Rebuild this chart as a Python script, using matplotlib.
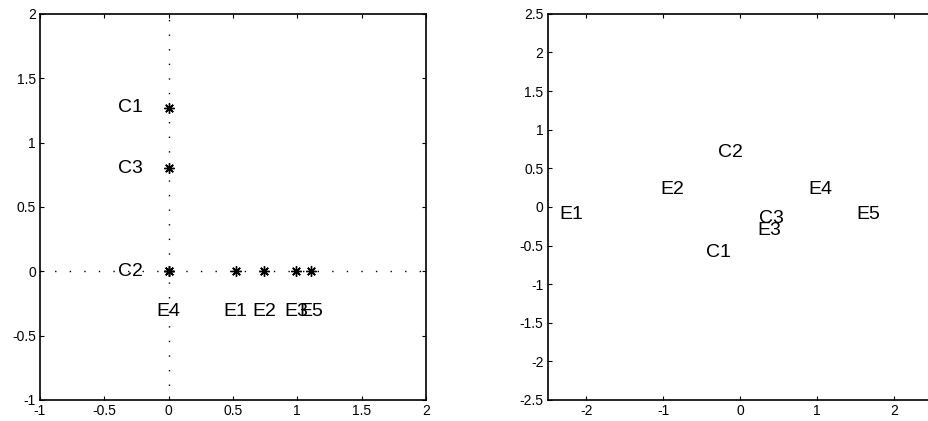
import matplotlib
matplotlib.use("Agg")
from matplotlib import pyplot as plt

plt.rcParams['font.family'] = ['Liberation Sans', 'DejaVu Sans']

# painel esquerdo: pontos sobre os eixos
c_nomes = ["C1", "C2", "C3"]
c_y = [1.27, 0.0, 0.80]
e_nomes = ["E1", "E2", "E3", "E4", "E5"]
e_x = [0.52, 0.74, 0.99, 0.0, 1.11]

# painel direito: so rotulos
dir_nomes = ["E1", "E2", "C2", "E4", "E5", "C3", "E3", "C1"]
dir_x = [-2.19, -0.88, -0.13, 1.04, 1.66, 0.41, 0.38, -0.28]
dir_y = [-0.10, 0.22, 0.71, 0.23, -0.10, -0.15, -0.30, -0.59]

fig = plt.figure(figsize=(9.29, 4.21), dpi=100)
ax1 = fig.add_axes([0.043, 0.050, 0.4155, 0.917])
ax2 = fig.add_axes([0.5896, 0.050, 0.4144, 0.917])

dotted = (0, (1, 9.5))
asterisco = (8, 2, 0)

# ---- esquerda ----
ax1.axhline(0, color='k', lw=1.0, linestyle=dotted)
ax1.axvline(0, color='k', lw=1.0, linestyle=dotted)
ax1.plot([0] * len(c_y), c_y, linestyle='none', marker=asterisco, color='k', ms=7.5, mew=1.0)
ax1.plot(e_x, [0] * len(e_x), linestyle='none', marker=asterisco, color='k', ms=7.5, mew=1.0)
for nome, y in zip(c_nomes, c_y):
    ax1.text(-0.3, y, nome, ha='center', va='center', fontsize=14)
for nome, x in zip(e_nomes, e_x):
    ax1.text(x, -0.31, nome, ha='center', va='center', fontsize=14)
ax1.set_xlim(-1, 2)
ax1.set_ylim(-1, 2)
ax1.set_xticks([-1, -0.5, 0, 0.5, 1, 1.5, 2])
ax1.set_xticklabels(["-1", "-0.5", "0", "0.5", "1", "1.5", "2"])
ax1.set_yticks([-1, -0.5, 0, 0.5, 1, 1.5, 2])
ax1.set_yticklabels(["-1", "-0.5", "0", "0.5", "1", "1.5", "2"])

# ---- direita ----
for nome, x, y in zip(dir_nomes, dir_x, dir_y):
    ax2.text(x, y, nome, ha='center', va='center', fontsize=14)
ax2.set_xlim(-2.5, 2.5)
ax2.set_ylim(-2.5, 2.5)
ax2.set_xticks([-2, -1, 0, 1, 2])
ax2.set_xticklabels(["-2", "-1", "0", "1", "2"])
yt = [-2.5, -2, -1.5, -1, -0.5, 0, 0.5, 1, 1.5, 2, 2.5]
ax2.set_yticks(yt)
ax2.set_yticklabels(["-2.5", "-2", "-1.5", "-1", "-0.5", "0", "0.5", "1", "1.5", "2", "2.5"])

for ax in (ax1, ax2):
    for s in ax.spines.values():
        s.set_linewidth(1.2)
    ax.tick_params(direction='in', length=3, width=0.8, top=True, right=True,
                   labelsize=10, pad=3)

fig.savefig("out.png", dpi=100)
